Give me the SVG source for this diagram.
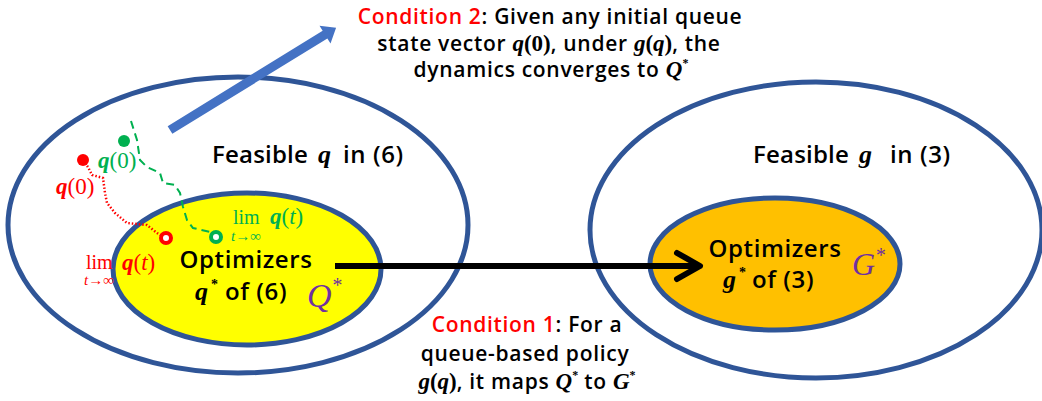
<svg xmlns="http://www.w3.org/2000/svg" width="1042" height="401" viewBox="0 0 1042 401">
<style>
.ell{stroke:#2F5597;stroke-width:5}
.t{font-family:"Open Sans","Liberation Sans",sans-serif;font-weight:600;fill:#000}
.c{font-size:21px;letter-spacing:0.7px}
.l{font-size:24px;letter-spacing:0.6px}
.m{font-family:"Liberation Serif","DejaVu Serif",serif;font-style:italic;font-weight:bold;letter-spacing:0}
.n{font-family:"Liberation Serif","DejaVu Serif",serif;letter-spacing:0}
.red{fill:#FF0000}
.grn{fill:#00B050}
.pur{fill:#7030A0;font-family:"Liberation Serif","DejaVu Serif",serif;font-style:italic}
</style>
<rect width="1042" height="401" fill="#fff"/>
<g id="feasible-q">
<ellipse class="ell" cx="238" cy="225" rx="230" ry="148" fill="#fff"/>
<text class="t l" y="163"><tspan x="212" letter-spacing="0.2">Feasible</tspan><tspan x="318" class="m" font-size="26">q</tspan><tspan x="343">in (6)</tspan></text>
</g>
<g id="feasible-g">
<ellipse class="ell" cx="816" cy="230" rx="226" ry="148" fill="#fff"/>
<text class="t l" y="163"><tspan x="753" letter-spacing="0.2">Feasible</tspan><tspan x="859" class="m" font-size="26">g</tspan><tspan x="890">in (3)</tspan></text>
</g>
<g id="optimizers-q">
<ellipse class="ell" cx="247" cy="269" rx="134" ry="76" fill="#FFFF00"/>
<text class="t l" x="246" y="268" text-anchor="middle">Optimizers</text>
<text class="t l" y="300"><tspan x="195" class="m" font-size="26">q</tspan><tspan x="211" dy="-11" class="n" font-size="14">*</tspan><tspan x="225" dy="11">of (6)</tspan></text>
<text class="pur" x="307" y="307" font-size="34">Q<tspan font-size="20" dy="-15">*</tspan></text>
</g>
<g id="optimizers-g">
<ellipse class="ell" cx="775" cy="264" rx="125" ry="66" fill="#FFC000"/>
<text class="t l" x="775" y="257" text-anchor="middle">Optimizers</text>
<text class="t l" y="288"><tspan x="723" class="m" font-size="26">g</tspan><tspan x="739" dy="-11" class="n" font-size="14">*</tspan><tspan x="752" dy="11">of (3)</tspan></text>
<text class="pur" x="852" y="275" font-size="32">G<tspan font-size="20" dy="-13">*</tspan></text>
</g>
<g id="trajectories">
<path d="M131,121 L137,140 L140,160 L147,167 L160,173 L163,183 L175,185 L180,193 L183,207 L187,220 L193,228 L210,232" fill="none" stroke="#00B050" stroke-width="2" stroke-dasharray="8 5"/>
<path d="M83,160 L88,167 L92,175 L103,178 L105,193 L107,203 L115,213 L127,223 L147,225 L157,233 L164,237" fill="none" stroke="#FF0000" stroke-width="2.5" stroke-dasharray="1.5 2"/>
<circle cx="124" cy="141" r="6" fill="#00B050"/>
<circle cx="83" cy="160" r="6" fill="#FF0000"/>
<circle cx="166" cy="238" r="5" fill="#fff" stroke="#FF0000" stroke-width="4"/>
<circle cx="216" cy="237" r="5" fill="#fff" stroke="#00B050" stroke-width="4"/>
<text x="98" y="168" font-size="23" class="grn"><tspan class="m">q</tspan><tspan class="n">(0)</tspan></text>
<text x="56" y="194" font-size="23" class="red"><tspan class="m">q</tspan><tspan class="n">(0)</tspan></text>
<text x="233" y="224" font-size="20" class="grn n">lim</text>
<text x="231" y="241" font-size="15" class="grn n" font-style="italic">t→∞</text>
<text x="270" y="224" font-size="23" class="grn"><tspan class="m">q</tspan><tspan class="n">(</tspan><tspan class="n" font-style="italic">t</tspan><tspan class="n">)</tspan></text>
<text x="86" y="269" font-size="20" class="red n">lim</text>
<text x="84" y="285" font-size="15" class="red n" font-style="italic">t→∞</text>
<text x="122" y="270" font-size="23" class="red"><tspan class="m">q</tspan><tspan class="n">(</tspan><tspan class="n" font-style="italic">t</tspan><tspan class="n">)</tspan></text>
</g>
<g id="connectors">
<polygon points="0,-4.5 182,-4.5 182,-10.5 195,0 182,10.5 182,4.5 0,4.5" fill="#4472C4" transform="translate(170,130) rotate(-31.6)"/>
<line x1="335" y1="266" x2="698" y2="266" stroke="#000" stroke-width="6"/>
<polyline points="677,253 700,266 677,279" fill="none" stroke="#000" stroke-width="6" stroke-linecap="round" stroke-linejoin="round"/>
</g>
<g id="condition-2">
<text class="t c" x="550" y="24" text-anchor="middle"><tspan class="red">Condition 2</tspan>: Given any initial queue</text>
<text class="t c" x="549" y="51" text-anchor="middle">state vector <tspan class="m" font-size="23">q</tspan><tspan class="n" font-weight="bold" font-size="23">(0)</tspan>, under <tspan class="m" font-size="23">g</tspan><tspan class="n" font-size="23">(</tspan><tspan class="m" font-size="23">q</tspan><tspan class="n" font-size="23">)</tspan>, the</text>
<text class="t c" x="551" y="77" text-anchor="middle">dynamics converges to <tspan class="m" font-size="23">Q</tspan><tspan class="n" font-size="12" dy="-10">*</tspan></text>
</g>
<g id="condition-1">
<text class="t c" x="527" y="332" text-anchor="middle"><tspan class="red">Condition 1</tspan>: For a</text>
<text class="t c" x="525" y="361" text-anchor="middle">queue-based policy</text>
<text class="t c" x="527" y="389" text-anchor="middle"><tspan class="m" font-size="23">g</tspan><tspan class="n" font-size="23">(</tspan><tspan class="m" font-size="23">q</tspan><tspan class="n" font-size="23">)</tspan>, it maps <tspan class="m" font-size="23">Q</tspan><tspan class="n" font-size="12" dy="-10">*</tspan><tspan dy="10"> to </tspan><tspan class="m" font-size="23">G</tspan><tspan class="n" font-size="12" dy="-10">*</tspan></text>
</g>
</svg>
